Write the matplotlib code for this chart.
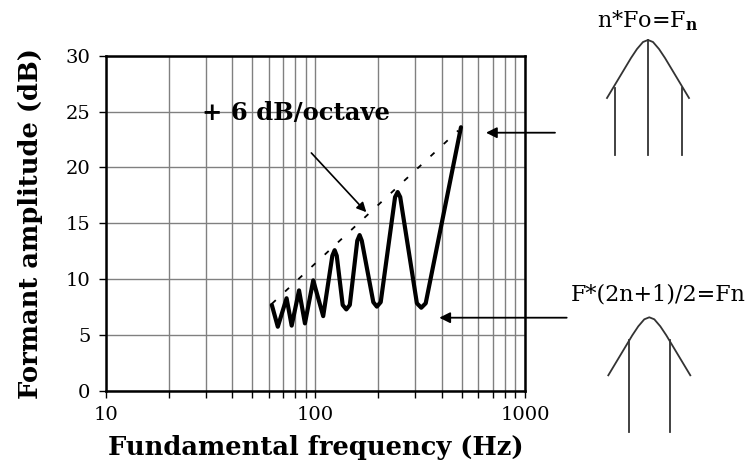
import matplotlib.pyplot as plt
from matplotlib.lines import Line2D

# Formant amplitude vs. fundamental frequency (log axis)
freq = [62, 66.2, 72.9, 77.1, 83.6, 89.2, 97.7, 109,
        120.5, 123.6, 126.5, 135, 140.5, 146, 158.5, 162.6, 166.5,
        189, 196.5, 205, 240, 247, 254, 305, 320, 336, 495]
amp = [7.7, 5.75, 8.3, 5.85, 9.0, 6.05, 9.9, 6.7,
       12.1, 12.6, 12.1, 7.7, 7.3, 7.7, 13.45, 13.95, 13.45,
       7.95, 7.55, 7.95, 17.35, 17.8, 17.35, 7.85, 7.45, 7.85, 23.6]

# +6 dB/octave envelope
env_freq = [62, 480]
env_amp = [7.8, 23.3]

xticks = [10, 100, 1000]
yticks = [0, 5, 10, 15, 20, 25, 30]

W, H = 749, 474

plt.rcParams['font.family'] = 'DejaVu Serif'
plt.rcParams['mathtext.fontset'] = 'dejavuserif'

fig = plt.figure(figsize=(W / 100, H / 100), dpi=100)
ax = fig.add_axes([105.7 / W, 1 - 391 / H, (525 - 105.7) / W, (391 - 55.7) / H])

ax.plot(freq, amp, color='black', lw=3.0, solid_joinstyle='round',
        solid_capstyle='round', zorder=4)
ax.plot(env_freq, env_amp, color='black', lw=1.3, linestyle=(0, (3, 7)), zorder=3)

ax.set_xscale('log')
ax.set_xlim(10, 1000)
ax.set_ylim(0, 30)
ax.set_xticks(xticks)
ax.set_xticklabels([str(t) for t in xticks])
ax.set_yticks(yticks)
ax.xaxis.set_minor_formatter(plt.NullFormatter())
ax.grid(True, which='both', color='#808080', lw=1.0)
ax.tick_params(axis='both', which='both', direction='out', length=5,
               width=1, labelsize=14, pad=6)
for s in ax.spines.values():
    s.set_linewidth(1.8)

ax.set_xlabel('Fundamental frequency (Hz)', fontsize=18.5, fontweight='bold', labelpad=8)
ax.set_ylabel('Formant amplitude (dB)', fontsize=18.5, fontweight='bold', labelpad=16)

ax.text(28.7, 24.9, '+ 6 dB/octave', fontsize=17.5, fontweight='bold',
        ha='left', va='center', zorder=5)
ax.annotate('', xy=(175, 16.0), xytext=(95.7, 21.3),
            arrowprops=dict(arrowstyle='-|>', color='black', lw=1.2,
                            mutation_scale=14, shrinkA=0, shrinkB=0), zorder=5)

# overlay in pixel units for the side sketches
ov = fig.add_axes([0, 0, 1, 1], facecolor='none')
ov.set_xlim(0, W)
ov.set_ylim(H, 0)
ov.axis('off')

for y0, x0, x1 in [(132.7, 555, 486), (317.7, 566.7, 439.3)]:
    ov.annotate('', xy=(x1, y0), xytext=(x0, y0), annotation_clip=False,
                arrowprops=dict(arrowstyle='-|>', color='black', lw=1.3,
                                mutation_scale=16, shrinkA=0, shrinkB=0))

# bell shapes (pixel offsets from the top)
bell_dx = [-41, -35, -29, -23, -17, -11, -5, 0, 5, 11, 17, 23, 29, 35, 41]
bell_dy = [58, 48, 38, 28, 18, 9, 2, 0, 2, 9, 18, 28, 38, 48, 58]

def draw_bell(cx, cy):
    ov.plot([cx + d for d in bell_dx], [cy + d for d in bell_dy],
            color='#333333', lw=1.3, solid_joinstyle='round')

draw_bell(648, 40)
for x, ytop in [(615, 88), (648, 40), (682, 88)]:
    ov.add_line(Line2D([x, x], [ytop, 155], color='#333333', lw=1.3))

draw_bell(649.3, 317.3)
for x in [629.3, 670]:
    ov.add_line(Line2D([x, x], [340, 431.7], color='#333333', lw=1.3))

ov.text(648, 21, r'n*Fo=F$_\mathbf{n}$', fontsize=16, ha='center', va='center')
ov.text(658, 295, 'F*(2n+1)/2=Fn', fontsize=16, ha='center', va='center')

fig.savefig('out.png', dpi=100)
